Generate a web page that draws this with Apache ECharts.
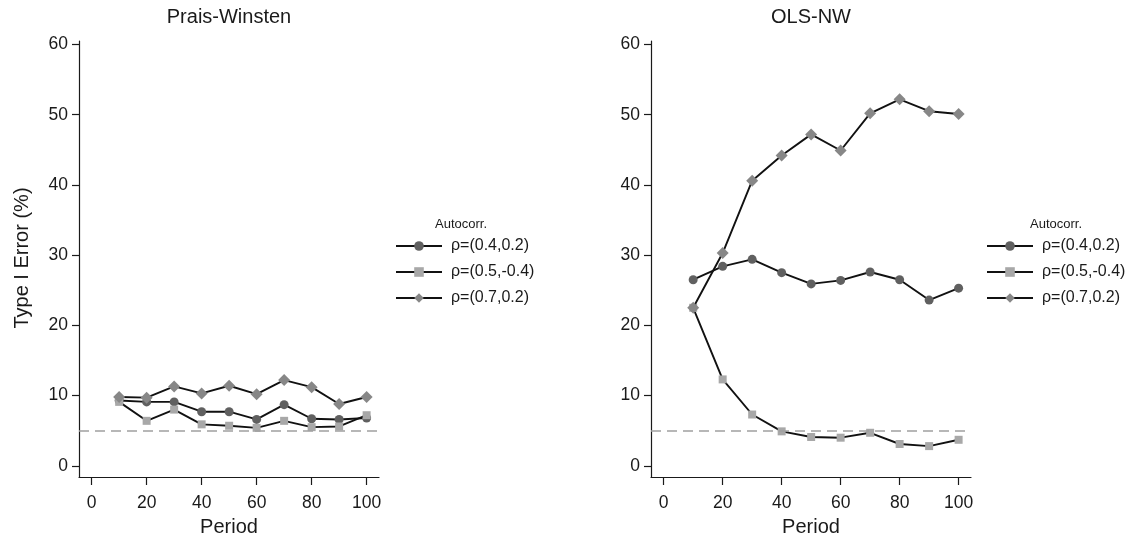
<!DOCTYPE html>
<html>
<head>
<meta charset="utf-8">
<script src="https://cdn.jsdelivr.net/npm/echarts@6/dist/echarts.min.js"></script>
<style>
  html, body { margin: 0; padding: 0; background: #fff; }
  #chart { width: 1135px; height: 544px; }
</style>
</head>
<body>
<div id="chart"></div>
<script>
// Simulated Type I error rates by sample length
const periods = [10, 20, 30, 40, 50, 60, 70, 80, 90, 100];
const seriesNames = ['ρ=(0.4,0.2)', 'ρ=(0.5,-0.4)', 'ρ=(0.7,0.2)'];

// Prais-Winsten panel
const pwRho1 = [9.3, 9.1, 9.1, 7.7, 7.7, 6.6, 8.7, 6.7, 6.6, 6.8];
const pwRho2 = [9.1, 6.4, 8.0, 5.9, 5.7, 5.4, 6.4, 5.5, 5.6, 7.2];
const pwRho3 = [9.8, 9.7, 11.3, 10.3, 11.4, 10.2, 12.2, 11.2, 8.8, 9.8];

// OLS with Newey-West errors panel
const nwRho1 = [26.5, 28.4, 29.4, 27.5, 25.9, 26.4, 27.6, 26.5, 23.6, 25.3];
const nwRho2 = [22.5, 12.3, 7.3, 4.9, 4.1, 4.0, 4.7, 3.1, 2.8, 3.7];
const nwRho3 = [22.5, 30.3, 40.6, 44.2, 47.2, 44.9, 50.2, 52.2, 50.5, 50.1];

const xTicks = [0, 20, 40, 60, 80, 100];
const yTicks = [0, 10, 20, 30, 40, 50, 60];
const nominalLevel = 5;

const FONT = '"Liberation Sans", Arial, Helvetica, sans-serif';
const INK = '#1a1a1a';
const markerStyles = [
  { symbol: 'circle', size: 9, color: '#606060' },
  { symbol: 'rect', size: 8, color: '#a8a8a8' },
  { symbol: 'diamond', size: 12, color: '#878787' }
];

function xAxisFor(gridIndex, min, max) {
  return {
    type: 'value', gridIndex, min, max,
    axisLine: { onZero: false, lineStyle: { color: INK, width: 1.2 } },
    axisTick: { customValues: xTicks, length: 8, lineStyle: { color: INK, width: 1.2 } },
    axisLabel: { customValues: xTicks, color: INK, fontFamily: FONT, fontSize: 17.5, margin: 17 },
    splitLine: { show: false },
    name: 'Period', nameLocation: 'middle', nameGap: 40,
    nameTextStyle: { color: INK, fontFamily: FONT, fontSize: 20 }
  };
}
function yAxisFor(gridIndex) {
  return {
    type: 'value', gridIndex, min: -1.6, max: 60.5,
    axisLine: { show: true, onZero: false, lineStyle: { color: INK, width: 1.2 } },
    axisTick: { show: true, customValues: yTicks, length: 7, lineStyle: { color: INK, width: 1.2 } },
    axisLabel: { customValues: yTicks, color: INK, fontFamily: FONT, fontSize: 17.5, margin: 11 },
    splitLine: { show: false }
  };
}
function lineSeries(name, values, idx, axisIdx, withRef) {
  const m = markerStyles[idx];
  const s = {
    name, type: 'line', xAxisIndex: axisIdx, yAxisIndex: axisIdx,
    data: periods.map((p, i) => [p, values[i]]),
    symbol: m.symbol, symbolSize: m.size, showAllSymbol: true,
    lineStyle: { color: '#111', width: 1.9 },
    itemStyle: { color: m.color, borderWidth: 0 },
    emphasis: { disabled: true },
    animation: false, z: 3 + idx
  };
  if (withRef) {
    s.markLine = {
      silent: true, symbol: 'none', animation: false,
      label: { show: false },
      lineStyle: { color: '#a0a0a0', type: [10, 6], width: 1.5 },
      data: [{ yAxis: nominalLevel }]
    };
  }
  return s;
}
function legendFor(left) {
  return {
    orient: 'vertical', left, top: 233,
    itemWidth: 46, itemHeight: 12, itemGap: 10,
    data: seriesNames,
    selectedMode: false,
    textStyle: { color: INK, fontFamily: FONT, fontSize: 16, padding: [0, 0, 0, 4] }
  };
}

const chart = echarts.init(document.getElementById('chart'), null, { renderer: 'canvas' });
chart.setOption({
  backgroundColor: '#fff',
  animation: false,
  grid: [
    { left: 79, top: 41, width: 300, height: 436 },
    { left: 651, top: 41, width: 320, height: 436 }
  ],
  xAxis: [xAxisFor(0, -4.6, 104.5), xAxisFor(1, -4.3, 104.2)],
  yAxis: [yAxisFor(0), yAxisFor(1)],
  legend: [legendFor(390), legendFor(981)],
  graphic: [
    { type: 'text', x: 229, y: 17, style: { text: 'Prais-Winsten', fill: INK, font: '20px ' + FONT, textAlign: 'center', textVerticalAlign: 'middle' } },
    { type: 'text', x: 811, y: 17, style: { text: 'OLS-NW', fill: INK, font: '20px ' + FONT, textAlign: 'center', textVerticalAlign: 'middle' } },
    { type: 'text', x: 22, y: 258, rotation: Math.PI / 2, style: { text: 'Type I Error (%)', fill: INK, font: '20px ' + FONT, textAlign: 'center', textVerticalAlign: 'middle' } },
    { type: 'text', x: 461, y: 224, style: { text: 'Autocorr.', fill: INK, font: '13px ' + FONT, textAlign: 'center', textVerticalAlign: 'middle' } },
    { type: 'text', x: 1056, y: 224, style: { text: 'Autocorr.', fill: INK, font: '13px ' + FONT, textAlign: 'center', textVerticalAlign: 'middle' } }
  ],
  series: [
    lineSeries(seriesNames[0], pwRho1, 0, 0, true),
    lineSeries(seriesNames[1], pwRho2, 1, 0, false),
    lineSeries(seriesNames[2], pwRho3, 2, 0, false),
    lineSeries(seriesNames[0], nwRho1, 0, 1, true),
    lineSeries(seriesNames[1], nwRho2, 1, 1, false),
    lineSeries(seriesNames[2], nwRho3, 2, 1, false)
  ]
});
</script>
</body>
</html>
